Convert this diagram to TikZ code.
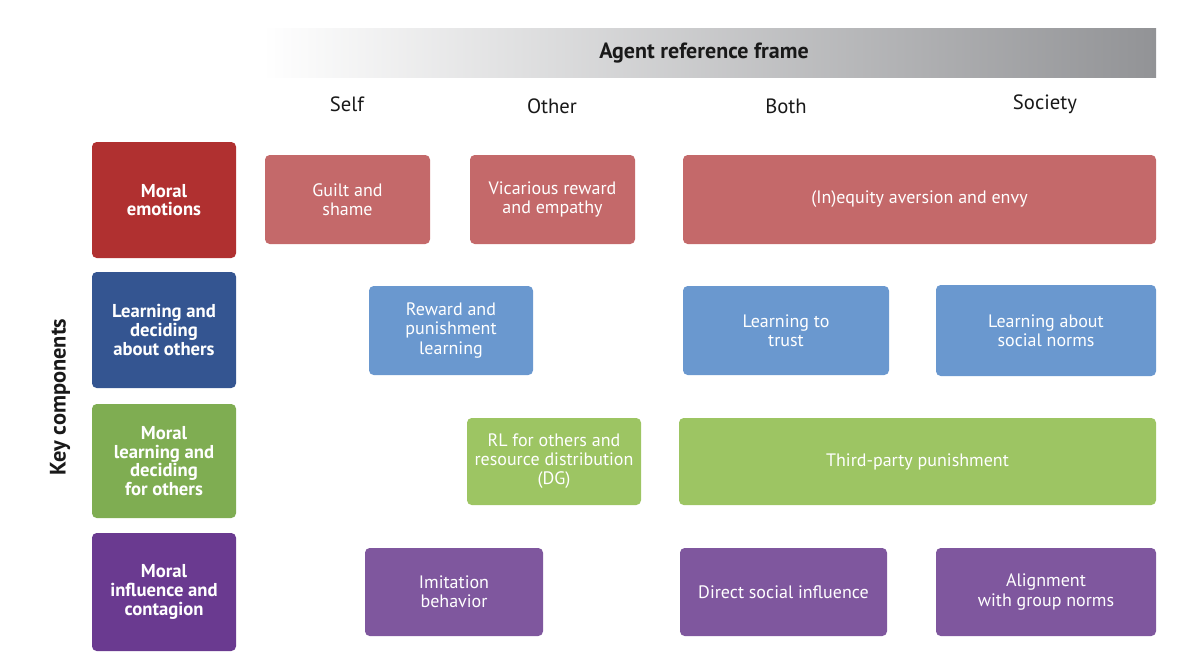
\documentclass[tikz,border=0pt]{standalone}
\usepackage{fontspec}
\setmainfont{PT Sans}
\usetikzlibrary{positioning}

\definecolor{hdrgray}{RGB}{146,147,150}
\definecolor{emodark}{RGB}{176,48,48}
\definecolor{emolight}{RGB}{196,105,106}
\definecolor{aboutdark}{RGB}{52,85,145}
\definecolor{aboutlight}{RGB}{106,152,207}
\definecolor{fordark}{RGB}{127,173,82}
\definecolor{forlight}{RGB}{157,197,99}
\definecolor{infdark}{RGB}{106,58,144}
\definecolor{inflight}{RGB}{127,87,158}

\tikzset{
  cell/.style 2 args={minimum width=#1*0.75pt, minimum height=#2*0.75pt},
  box/.style={rounded corners=3.5pt, inner sep=0pt, align=center, text=white,
    font=\fontsize{13.5}{14.3}\selectfont},
  catbox/.style={box, font=\fontsize{14}{14}\selectfont\bfseries},
  colhead/.style={font=\fontsize{15.5}{17}\selectfont, text=black!90},
}

\begin{document}
\begin{tikzpicture}[x=0.75pt,y=-0.75pt]
\useasboundingbox (0,0) rectangle (1182,660);

\node[cell={894}{49}, inner sep=0pt, left color=white, right color=hdrgray] (frame) at (709,53.5) {};
\node[font=\fontsize{16.5}{18}\selectfont\bfseries, text=black!90] (frametext) at (704,53.5) {Agent reference frame};
\node[colhead] (self) at (347,104) {Self};
\node[colhead] (other) at (552,106) {Other};
\node[colhead] (both) at (786,106) {Both};
\node[colhead] (society) at (1045,104) {Society};

\node[rotate=90, font=\fontsize{16.8}{18}\selectfont\bfseries, text=black!90] (key) at (60,397) {Key components};

\node[catbox, cell={144}{116}, fill=emodark] (catEmo) at (164,200) {Moral\\emotions};
\node[catbox, cell={144}{116}, fill=aboutdark] (catAbout) at (164,330) {Learning and\\deciding\\about others};
\node[catbox, cell={144}{114}, fill=fordark] (catFor) at (164,461) {Moral\\learning and\\deciding\\for others};
\node[catbox, cell={144}{118}, fill=infdark] (catInf) at (164,592) {Moral\\influence and\\contagion};

\node[box, cell={165}{89}, fill=emolight] (guilt) at (347.5,199.5) {Guilt and\\shame};
\node[box, cell={165}{89}, fill=emolight] (vicar) at (552.5,199.5) {Vicarious reward\\and empathy};
\node[box, cell={473}{89}, fill=emolight] (ineq) at (919.5,199.5) {(In)equity aversion and envy};

\node[box, cell={164}{89}, fill=aboutlight] (reward) at (451,330.5) {Reward and\\punishment\\learning};
\node[box, cell={206}{89}, fill=aboutlight] (trust) at (786,330.5) {Learning to\\trust};
\node[box, cell={220}{91}, fill=aboutlight] (norms) at (1046,330.5) {Learning about\\social norms};

\node[box, cell={174}{87}, fill=forlight] (rlothers) at (554,461.5) {RL for others and\\resource distribution\\(DG)};
\node[box, cell={477}{87}, fill=forlight] (third) at (917.5,461.5) {Third-party punishment};

\node[box, cell={178}{88}, fill=inflight] (imit) at (454,592) {Imitation\\behavior};
\node[box, cell={207}{88}, fill=inflight] (direct) at (783.5,592) {Direct social influence};
\node[box, cell={220}{88}, fill=inflight] (align) at (1046,592) {Alignment\\with group norms};
\end{tikzpicture}
\end{document}
